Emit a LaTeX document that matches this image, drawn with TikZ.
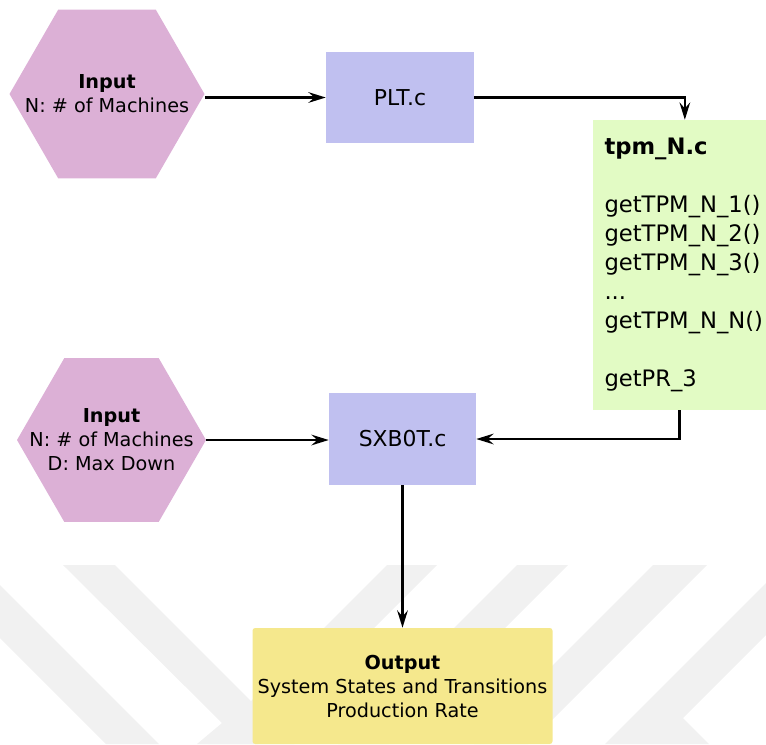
\documentclass[tikz,border=0pt]{standalone}
\usepackage{fontspec}
\setmainfont{DejaVu Sans}
\usepackage{xcolor}
\usetikzlibrary{shapes.geometric,arrows.meta}

\definecolor{hexpink}{RGB}{220,176,214}
\definecolor{cfileblue}{RGB}{192,192,240}
\definecolor{tpmgreen}{RGB}{226,251,196}
\definecolor{outyellow}{RGB}{245,232,141}
\definecolor{wmgray}{RGB}{241,241,241}

\tikzset{
  inhex/.style={regular polygon, regular polygon sides=6, fill=hexpink, inner sep=0pt},
  hextext/.style={align=center, inner sep=0pt, font=\fontsize{14.4}{18}\selectfont},
  cfile/.style={rectangle, fill=cfileblue, inner sep=0pt, font=\fontsize{16.4}{20}\selectfont},
  link/.style={line width=1.6pt, -{Stealth[length=13pt,width=8pt,inset=4.5pt]}},
  wmark/.style={fill=wmgray, draw=none}
}

\begin{document}
\begin{tikzpicture}[x=0.75pt,y=0.75pt,yscale=-1,xscale=1]
\useasboundingbox (0,0) rectangle (766,744);

%Shape: watermark stripes
\fill[wmark] (0,585) -- (159,744) -- (106,744) -- (0,638) -- cycle ;
\fill[wmark] (63,565) -- (115,565) -- (294,744) -- (197,744) -- (222,723) -- cycle ;
\fill[wmark] (387,565) -- (437,565) -- (258,744) -- (208,744) -- cycle ;
\fill[wmark] (517,565) -- (568,565) -- (389,744) -- (338,744) -- cycle ;
\fill[wmark] (653,565) -- (707,565) -- (528,744) -- (474,744) -- cycle ;
\fill[wmark] (766,583) -- (605,744) -- (709,744) -- (683,718) -- (766,635) -- cycle ;

%Shape: Hexagon (first input)
\node[inhex, minimum size=146.25pt] (in1) at (107,94) {};
% Text Node
\node[hextext] (in1txt) at (in1) {\textbf{Input}\\N: \# of Machines};

%Shape: Hexagon (second input)
\node[inhex, minimum size=141.75pt] (in2) at (111.5,440) {};
% Text Node
\node[hextext] (in2txt) at (in2) {\textbf{Input}\\N: \# of Machines\\D: Max Down};

%Shape: Rectangle
\node[cfile, minimum width=111pt, minimum height=68.25pt] (plt) at (400,97.5) {PLT.c};
%Shape: Rectangle
\node[cfile, minimum width=110.25pt, minimum height=69pt] (sxb) at (402.5,439) {SXB0T.c};

%Shape: Rectangle (function list)
\node[rectangle, fill=tpmgreen, minimum width=129.75pt, minimum height=217.5pt,
      text width=112.5pt, inner xsep=8.6pt, inner ysep=0pt, align=left,
      font=\fontsize{17}{21.75}\selectfont] (tpm) at (679.5,265)
  {\textbf{tpm\_N.c}\\[21.75pt]
   getTPM\_N\_1()\\
   getTPM\_N\_2()\\
   getTPM\_N\_3()\\
   ...\\
   getTPM\_N\_N()\\[21.75pt]
   getPR\_3};

%Shape: Rectangle (output)
\node[rectangle, rounded corners=2pt, fill=outyellow, minimum width=225pt, minimum height=87pt,
      align=center, inner sep=0pt, font=\fontsize{14.4}{18}\selectfont] (out) at (402.5,686)
  {\textbf{Output}\\System States and Transitions\\Production Rate};

%Straight Lines
\draw[link] (in1.east |- plt.west) -- (plt.west) ;
\draw[link] (plt.east) -| ([xshift=4pt]tpm.north) ;
\draw[link] (tpm.south) |- (sxb.east) ;
\draw[link] (in2.east) -- (in2.east -| sxb.west) ;
\draw[link] (sxb.south) -- (out.north) ;

\end{tikzpicture}
\end{document}
